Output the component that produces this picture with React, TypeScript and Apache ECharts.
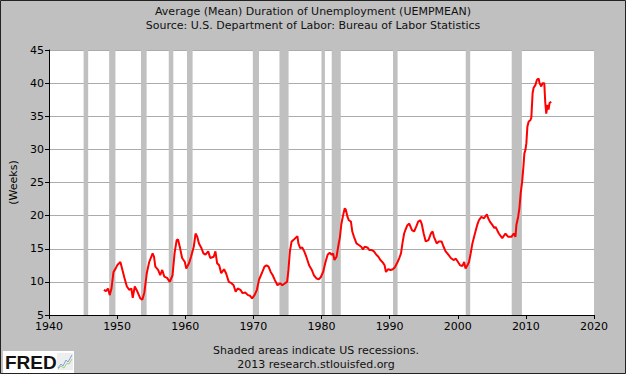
import React, { useEffect, useRef } from "react";
import * as echarts from "echarts";

const titleLines = [
  "Average (Mean) Duration of Unemployment (UEMPMEAN)",
  "Source: U.S. Department of Labor: Bureau of Labor Statistics",
];
const footerLines = ["Shaded areas indicate US recessions.", "2013 research.stlouisfed.org"];
const yAxisName = "(Weeks)";

const years = [
  1948.06, 1948.36, 1948.66, 1948.91, 1949.17, 1949.47, 1949.77, 1950.07, 1950.48, 1950.78,
  1951.08, 1951.43, 1951.79, 1952.09, 1952.29, 1952.59, 1952.99, 1953.4, 1953.7, 1954.0,
  1954.35, 1954.71, 1955.21, 1955.41, 1955.61, 1956.02, 1956.32, 1956.62, 1956.92, 1957.33,
  1957.73, 1958.13, 1958.43, 1958.74, 1958.94, 1959.24, 1959.54, 1959.94, 1960.15, 1960.55,
  1960.85, 1961.25, 1961.51, 1961.76, 1962.01, 1962.37, 1962.67, 1962.97, 1963.37, 1963.67,
  1964.18, 1964.43, 1964.68, 1964.98, 1965.28, 1965.69, 1965.99, 1966.39, 1966.79, 1967.1,
  1967.4, 1967.7, 1968.1, 1968.41, 1968.81, 1969.21, 1969.51, 1969.82, 1970.17, 1970.52,
  1970.82, 1971.23, 1971.63, 1971.93, 1972.23, 1972.54, 1972.84, 1973.14, 1973.54, 1973.95,
  1974.25, 1974.65, 1974.95, 1975.15, 1975.36, 1975.61, 1975.86, 1976.16, 1976.46, 1976.61,
  1976.87, 1977.17, 1977.47, 1977.77, 1978.18, 1978.58, 1978.88, 1979.28, 1979.59, 1979.89,
  1980.24, 1980.59, 1980.9, 1981.2, 1981.5, 1981.7, 1981.9, 1982.21, 1982.41, 1982.71,
  1982.91, 1983.16, 1983.41, 1983.57, 1983.82, 1984.02, 1984.32, 1984.52, 1984.77, 1985.13,
  1985.43, 1985.83, 1986.08, 1986.34, 1986.74, 1987.04, 1987.39, 1987.7, 1988.05, 1988.35,
  1988.65, 1989.01, 1989.26, 1989.46, 1989.76, 1990.16, 1990.47, 1990.77, 1991.17, 1991.42,
  1991.67, 1991.88, 1992.13, 1992.38, 1992.58, 1992.88, 1993.28, 1993.59, 1993.89, 1994.19,
  1994.49, 1994.7, 1995.0, 1995.3, 1995.7, 1996.06, 1996.31, 1996.51, 1996.91, 1997.22,
  1997.62, 1997.92, 1998.22, 1998.62, 1998.98, 1999.38, 1999.73, 2000.04, 2000.34, 2000.69,
  2000.94, 2001.14, 2001.42, 2001.65, 2001.9, 2002.15, 2002.4, 2002.65, 2002.86, 2003.11,
  2003.46, 2003.86, 2004.27, 2004.47, 2004.72, 2005.07, 2005.4, 2005.55, 2006.03, 2006.53,
  2007.01, 2007.4, 2007.88, 2008.22, 2008.47, 2008.61, 2008.86, 2009.05, 2009.24, 2009.45,
  2009.64, 2009.78, 2009.93, 2010.07, 2010.22, 2010.41, 2010.66, 2010.8, 2010.99, 2011.14,
  2011.39, 2011.63, 2011.87, 2012.01, 2012.26, 2012.45, 2012.7, 2012.85, 2012.99, 2013.18,
  2013.33, 2013.48, 2013.72,
];

const weeks = [
  8.8, 8.6, 9.0, 8.0, 9.0, 11.5, 12.0, 12.6, 13.0, 11.8,
  10.6, 9.3, 8.8, 9.0, 7.6, 9.3, 8.5, 7.5, 7.3, 8.4,
  11.3, 13.0, 14.3, 13.8, 12.3, 11.8, 11.0, 11.8, 10.8, 10.6,
  10.0, 11.0, 14.3, 16.3, 16.4, 15.1, 13.6, 13.0, 12.0, 12.8,
  13.8, 15.3, 17.3, 16.8, 15.8, 15.1, 14.3, 14.1, 14.6, 13.6,
  13.8, 14.6, 12.8, 12.5, 11.3, 11.9, 11.3, 10.0, 9.8, 9.5,
  8.5, 9.0, 8.8, 8.3, 8.4, 8.0, 7.9, 7.5, 8.0, 8.8,
  10.3, 11.3, 12.3, 12.5, 12.3, 11.5, 11.0, 10.3, 9.5, 9.8,
  9.5, 9.8, 10.0, 11.8, 14.6, 16.1, 16.3, 16.6, 16.9, 15.8,
  15.1, 15.2, 14.6, 13.8, 12.5, 11.8, 11.0, 10.5, 10.4, 10.7,
  11.5, 13.0, 14.1, 14.4, 14.1, 14.3, 13.3, 13.8, 15.1, 16.8,
  18.7, 20.0, 21.1, 20.9, 19.8, 19.3, 19.1, 17.6, 16.8, 15.8,
  15.6, 15.3, 14.9, 15.3, 15.2, 14.8, 14.8, 14.6, 14.1, 13.8,
  13.3, 12.9, 12.5, 11.5, 11.9, 11.8, 11.9, 12.2, 13.0, 13.6,
  14.3, 15.8, 17.3, 18.0, 18.5, 18.8, 17.8, 17.6, 18.3, 19.1,
  19.3, 18.8, 17.3, 16.1, 16.3, 17.3, 17.6, 16.8, 15.8, 16.1,
  16.1, 15.3, 14.6, 14.1, 13.6, 13.3, 13.5, 13.0, 12.5, 12.4,
  13.0, 12.0, 12.5, 13.0, 14.3, 15.8, 16.8, 17.8, 18.6, 19.3,
  19.8, 19.6, 20.2, 19.6, 19.1, 18.6, 18.1, 18.3, 17.3, 16.6,
  17.3, 16.8, 16.8, 17.3, 16.8, 18.6, 19.8, 21.1, 23.4, 25.1,
  27.4, 29.4, 29.9, 30.9, 33.4, 34.2, 34.4, 34.8, 38.5, 39.3,
  39.7, 40.5, 40.7, 40.0, 39.5, 40.0, 40.0, 37.0, 35.4, 36.7,
  36.0, 37.0, 37.2,
];

const recessionStart = [1945.08, 1948.83, 1953.5, 1957.58, 1960.25, 1969.92, 1973.83, 1980.0, 1981.5, 1990.5, 2001.17, 2007.92];
const recessionEnd = [1945.75, 1949.75, 1954.33, 1958.25, 1961.08, 1970.83, 1975.17, 1980.5, 1982.83, 1991.17, 2001.83, 2009.42];

const FONT = "DejaVu Sans";

export default function App() {
  const ref = useRef<HTMLDivElement>(null);
  useEffect(() => {
    if (!ref.current) return;
    const chart = echarts.init(ref.current, undefined, { renderer: "svg" });
    const lineData = years.map((y, i) => [y, weeks[i]]);
    const areas = recessionStart.map((s, i) => [{ xAxis: s }, { xAxis: recessionEnd[i] }]);
    chart.setOption({
      animation: false,
      backgroundColor: "#c0c0c0",
      textStyle: { fontFamily: FONT },
      grid: {
        left: 46,
        right: 32,
        top: 50,
        bottom: 59,
        show: true,
        backgroundColor: "#ffffff",
        borderWidth: 0,
      },
      xAxis: {
        type: "value",
        min: 1940,
        max: 2020,
        interval: 10,
        axisLine: { show: true, onZero: false, lineStyle: { color: "#000", width: 1 } },
        axisTick: { show: true, length: 4, lineStyle: { color: "#000" } },
        splitLine: { show: false },
        axisLabel: { color: "#000", fontSize: 11, margin: 6, fontFamily: FONT, formatter: (v: number) => String(v) },
      },
      yAxis: {
        type: "value",
        min: 5,
        max: 45,
        interval: 5,
        name: yAxisName,
        nameLocation: "middle",
        nameGap: 30,
        nameRotate: 90,
        nameTextStyle: { color: "#000", fontSize: 11, fontFamily: FONT },
        axisLine: { show: true, onZero: false, lineStyle: { color: "#000", width: 1 } },
        axisTick: { show: true, length: 4, lineStyle: { color: "#000" } },
        splitLine: { show: true, lineStyle: { color: "#ababab", width: 1 } },
        axisLabel: { color: "#000", fontSize: 11, margin: 5, fontFamily: FONT },
      },
      series: [
        {
          type: "line",
          data: [],
          z: 1,
          silent: true,
          markArea: {
            silent: true,
            itemStyle: { color: "#c0c0c0", opacity: 1 },
            data: areas,
          },
        },
        {
          type: "line",
          data: lineData,
          z: 3,
          showSymbol: false,
          symbol: "none",
          lineStyle: { color: "#ff0000", width: 2 },
          silent: true,
        },
      ],
      graphic: [
        {
          type: "text",
          x: 313,
          y: 11,
          style: { text: titleLines[0], fontSize: 11, fontFamily: FONT, fill: "#111", align: "center", verticalAlign: "middle" },
        },
        {
          type: "text",
          x: 313,
          y: 25,
          style: { text: titleLines[1], fontSize: 11, fontFamily: FONT, fill: "#111", align: "center", verticalAlign: "middle" },
        },
        {
          type: "text",
          x: 316,
          y: 350,
          style: { text: footerLines[0], fontSize: 11, fontFamily: FONT, fill: "#111", align: "center", verticalAlign: "middle" },
        },
        {
          type: "text",
          x: 316,
          y: 364,
          style: { text: footerLines[1], fontSize: 11, fontFamily: FONT, fill: "#111", align: "center", verticalAlign: "middle" },
        },
        {
          type: "group",
          children: [
            { type: "rect", shape: { x: 3, y: 351, width: 71, height: 22 }, style: { fill: "#ffffff" } },
            {
              type: "text",
              x: 5,
              y: 362.5,
              style: { text: "FRED", fontSize: 19, fontWeight: "bold", fontFamily: "Liberation Sans", fill: "#111", verticalAlign: "middle" },
            },
            { type: "rect", shape: { x: 57, y: 353, width: 16, height: 17 }, style: { fill: "#eeeeee" } },
            { type: "polyline", shape: { points: [[58, 368], [61, 364], [63, 366], [66, 360], [68, 362], [72, 355]] }, style: { stroke: "#7fa0d0", lineWidth: 1, fill: "none" } },
            { type: "polyline", shape: { points: [[58, 369], [61, 366], [64, 368], [67, 363], [69, 364], [72, 359]] }, style: { stroke: "#9ccf8c", lineWidth: 1, fill: "none" } },
          ],
        },
        {
          type: "rect",
          z: 100,
          shape: { x: 0.5, y: 0.5, width: 625, height: 373 },
          style: { fill: "none", stroke: "#222", lineWidth: 1 },
        },
      ],
    });
    return () => chart.dispose();
  }, []);
  return <div ref={ref} style={{ position: "absolute", left: 0, top: 0, width: 626, height: 374 }} />;
}
